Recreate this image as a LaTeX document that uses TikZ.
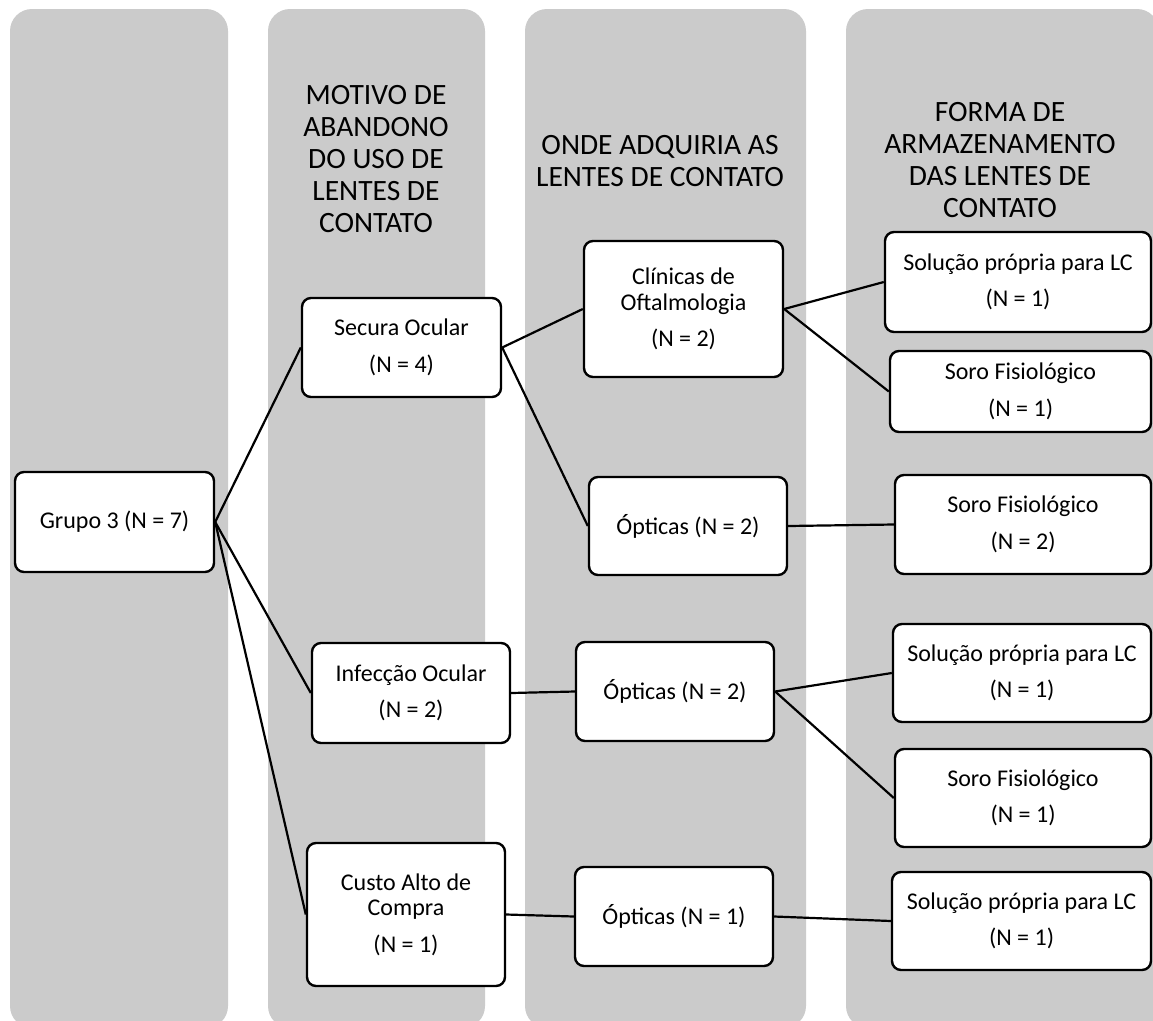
\documentclass[tikz,border=0pt]{standalone}
\usepackage{fontspec}
\setmainfont{Carlito}
\definecolor{colgray}{HTML}{CBCBCB}
\begin{document}
\begin{tikzpicture}[x=1pt,y=-1pt,
  colbg/.style={fill=colgray, draw=none, rounded corners=22pt},
  coltitle/.style={align=center, inner sep=0pt, font=\fontsize{29.5}{32}\selectfont},
  box/.style={draw=black, line width=2.4pt, rounded corners=9pt, fill=white, align=center, inner sep=0pt, font=\fontsize{24}{25.5}\selectfont},
  link/.style={draw=black, line width=2.2pt}]
\useasboundingbox (0,0) rectangle (1153,1020);
\clip (0,0) rectangle (1153,1020);
% columns
\fill[colbg] (10,9) rectangle (228,1028);
\fill[colbg] (268,9) rectangle (485,1028);
\fill[colbg] (525,9) rectangle (806,1028);
\fill[colbg] (846,9) rectangle (1159,1028);
% titles
\node[coltitle] (t2) at (376,159.5) {MOTIVO DE\\ABANDONO\\DO USO DE\\LENTES DE\\CONTATO};
\node[coltitle] (t3) at (660,161) {ONDE ADQUIRIA AS\\LENTES DE CONTATO};
\node[coltitle] (t4) at (1000,160.5) {FORMA DE\\ARMAZENAMENTO\\DAS LENTES DE\\CONTATO};
% boxes
\node[box, minimum width=199pt, minimum height=100pt] (grupo) at (114.5,522) {Grupo 3 (N = 7)};
\node[box, minimum width=199pt, minimum height=99pt] (secura) at (401.5,347.5) {Secura Ocular\\[11pt](N = 4)};
\node[box, minimum width=198pt, minimum height=100pt] (infec) at (411,693) {Infecção Ocular\\[11pt](N = 2)};
\node[box, minimum width=198pt, minimum height=143pt] (custo) at (406,914.5) {Custo Alto de\\Compra\\[11pt](N = 1)};
\node[box, minimum width=199pt, minimum height=136pt] (clin) at (683.5,309) {Clínicas de\\Oftalmologia\\[11pt](N = 2)};
\node[box, minimum width=198pt, minimum height=98pt] (opt1) at (688,526) {Ópticas (N = 2)};
\node[box, minimum width=198pt, minimum height=99pt] (opt2) at (675,691.5) {Ópticas (N = 2)};
\node[box, minimum width=198pt, minimum height=99pt] (opt3) at (674,916.5) {Ópticas (N = 1)};
\node[box, minimum width=266pt, minimum height=100pt] (sol1) at (1018,282) {Solução própria para LC\\[11pt](N = 1)};
\node[box, minimum width=261pt, minimum height=81pt] (soro1) at (1020.5,391.5) {Soro Fisiológico\\[11pt](N = 1)};
\node[box, minimum width=256pt, minimum height=99pt] (soro2) at (1023,524.5) {Soro Fisiológico\\[11pt](N = 2)};
\node[box, minimum width=258pt, minimum height=98pt] (sol2) at (1022,673) {Solução própria para LC\\[11pt](N = 1)};
\node[box, minimum width=256pt, minimum height=98pt] (soro3) at (1023,798) {Soro Fisiológico\\[11pt](N = 1)};
\node[box, minimum width=259pt, minimum height=98pt] (sol3) at (1021.5,921) {Solução própria para LC\\[11pt](N = 1)};
% connectors
\draw[link] (grupo.east) -- (secura.west);
\draw[link] (grupo.east) -- (infec.west);
\draw[link] (grupo.east) -- (custo.west);
\draw[link] (secura.east) -- (clin.west);
\draw[link] (secura.east) -- (opt1.west);
\draw[link] (infec.east) -- (opt2.west);
\draw[link] (custo.east) -- (opt3.west);
\draw[link] (clin.east) -- (sol1.west);
\draw[link] (clin.east) -- (soro1.west);
\draw[link] (opt1.east) -- (soro2.west);
\draw[link] (opt2.east) -- (sol2.west);
\draw[link] (opt2.east) -- (soro3.west);
\draw[link] (opt3.east) -- (sol3.west);
\end{tikzpicture}
\end{document}
